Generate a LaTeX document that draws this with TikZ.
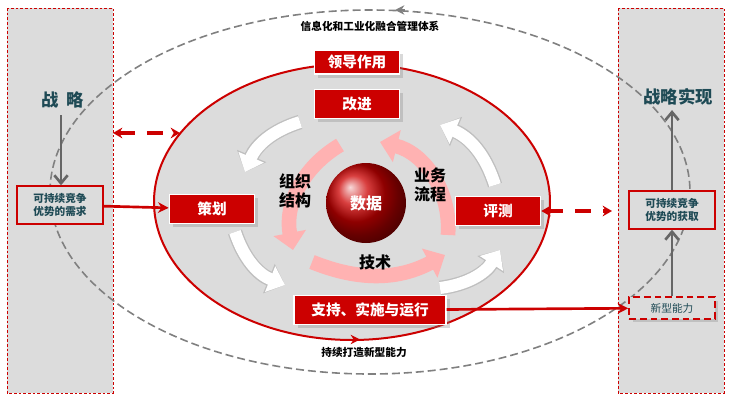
\documentclass[tikz,border=0pt]{standalone}
\usepackage{fontspec}
\setmainfont{Noto Sans CJK SC}
\usetikzlibrary{arrows.meta,shadows}
\definecolor{pg}{HTML}{DCDCDC}
\definecolor{rd}{HTML}{CC0000}
\definecolor{tl}{HTML}{1E4A55}
\tikzset{
 redbox/.style={draw=white,line width=1pt,fill=rd,text=white,font=\bfseries\fontsize{11}{12}\selectfont,minimum height=22pt,drop shadow={opacity=0.3}},
 panel/.style={draw=rd,thin,fill=pg,dash pattern=on 2pt off 1.5pt},
 tealtxt/.style={text=tl,font=\bfseries},
 gbox/.style={draw=rd,line width=1.5pt,fill=pg,align=center,tealtxt,font=\bfseries\fontsize{8}{10}\selectfont,minimum width=64pt,minimum height=28pt},
 pinkarr/.style={line width=11pt,draw=red!30,-{Triangle[width=24pt,length=13pt]}},
 whitearr/.style={line width=9pt,draw=white,-{Triangle[width=20pt,length=12pt]}},
 shadarr/.style={line width=11pt,draw=gray!50,-{Triangle[width=23pt,length=13pt]}},
 grayarr/.style={line width=2pt,draw=gray!80!black,-{Straight Barb[length=6pt,width=10pt]}},
 redarr/.style={line width=2pt,draw=rd,-{Stealth[length=8pt,width=8pt]}},
 reddash/.style={line width=2.5pt,draw=rd,dash pattern=on 12pt off 9pt,{Stealth[length=7pt,width=8pt]}-{Stealth[length=7pt,width=8pt]}},
}
\begin{document}
\begin{tikzpicture}[x=0.75pt,y=-0.75pt]
\useasboundingbox (0,0) rectangle (733,400);
% panels
\draw[panel] (7,8) rectangle (113,393);
\draw[panel] (618,8) rectangle (724,393);
% big dashed ellipse
\draw[gray,line width=1.2pt,dash pattern=on 6pt off 3pt] (370,192) ellipse [x radius=320, y radius=182];
\draw[gray,line width=1.2pt,-{Stealth[length=7pt,width=7pt]}] (405,10) -- (395,10);
\node[font=\bfseries\fontsize{8}{9}\selectfont] (title) at (370,26) {信息化和工业化融合管理体系};
% red ellipse
\draw[rd,line width=1.5pt,fill=pg] (352,202) ellipse [x radius=198, y radius=138];
\draw[rd,line width=1.2pt,-{Stealth[length=7pt,width=7pt]}] (345,339.5) -- (360,339.5);
% white curved arrows
\draw[shadarr] (300,122) to[bend right=25] (245,172);
\draw[whitearr] (300,122) to[bend right=25] (245,172);
\draw[shadarr] (235,232) to[bend right=25] (285,285);
\draw[whitearr] (235,232) to[bend right=25] (285,285);
\draw[shadarr] (440,288) to[bend right=25] (500,250);
\draw[whitearr] (440,288) to[bend right=25] (500,250);
\draw[shadarr] (495,185) to[bend right=25] (440,125);
\draw[whitearr] (495,185) to[bend right=25] (440,125);
% pink arrows
\draw[pinkarr] (340,145) to[bend right=35] (293,250);
\draw[pinkarr] (312,262) to[bend right=25] (445,255);
\draw[pinkarr] (448,235) to[bend right=40] (380,142);
% center circle
\shade[ball color=rd] (366,203) circle (40);
\node[text=white,font=\bfseries\fontsize{12}{13}\selectfont] (data) at (366,203) {数据};
\node[align=center,font=\bfseries\fontsize{12}{14}\selectfont] (org) at (295,191) {组织\\结构};
\node[align=center,font=\bfseries\fontsize{12}{14}\selectfont] (biz) at (430,185) {业务\\流程};
\node[font=\bfseries\fontsize{12}{13}\selectfont] (tech) at (375,262) {技术};
% red boxes
\node[redbox,minimum width=64pt,minimum height=18pt] (lead) at (357,62) {领导作用};
\node[redbox,minimum width=64pt] (imp) at (357,104) {改进};
\node[redbox,minimum width=64pt] (plan) at (212,209) {策划};
\node[redbox,minimum width=64pt] (eval) at (498,211) {评测};
\node[redbox,minimum width=114pt] (sup) at (370,310) {支持、实施与运行};
% left
\node[tealtxt,font=\bfseries\fontsize{13}{14}\selectfont] (stra) at (63,100) {战\hspace{6pt}略};
\node[gbox] (need) at (60,205) {可持续竞争\\优势的需求};
\coordinate (sb) at (61,115);
\draw[grayarr] (sb) -- (sb |- need.north);
\draw[redarr] (need) -- (plan);
\coordinate (lp) at (113,133);
\coordinate (le) at (180,133);
\draw[reddash] (lp) -- (le);
% right
\node[tealtxt,font=\bfseries\fontsize{13}{14}\selectfont] (real) at (678,97) {战略实现};
\node[gbox] (gain) at (672,210) {可持续竞争\\优势的获取};
\node[draw=rd,line width=1.5pt,dash pattern=on 5pt off 3pt,fill=pg,tealtxt,font=\fontsize{8}{9}\selectfont,minimum width=64pt,minimum height=16pt,drop shadow={opacity=0.3}] (newc) at (672,308) {新型能力};
\draw[grayarr] (gain.north) -- (gain.north |- real.south);
\draw[grayarr] (newc.north) -- (gain.south);
\draw[redarr] (sup) -- (newc);
\coordinate (rp) at (612,211);
\draw[reddash] (eval) -- (rp);
\node[font=\bfseries\fontsize{8}{9}\selectfont] (cap) at (364,352) {持续打造新型能力};
\end{tikzpicture}
\end{document}
